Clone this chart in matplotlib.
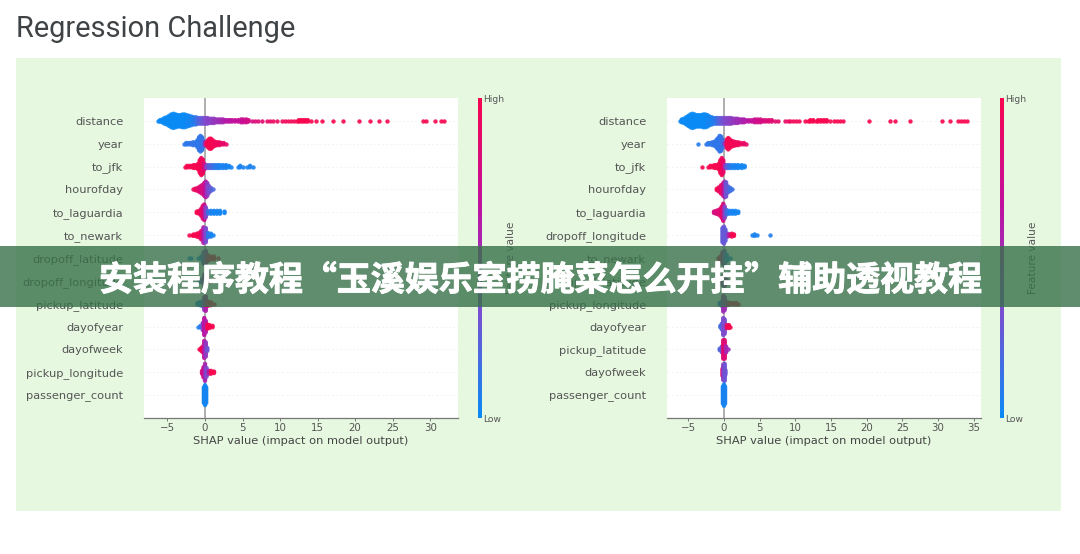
import matplotlib
matplotlib.use("Agg")
import matplotlib.pyplot as plt
import matplotlib.patheffects as pe
from matplotlib.colors import LinearSegmentedColormap
from matplotlib.patches import Rectangle
from matplotlib.cm import ScalarMappable

W, H = 1080, 554
TITLE = "Regression Challenge"
BANNER = "安装程序教程“玉溪娱乐室捞腌菜怎么开挂”辅助透视教程"
XLABEL = "SHAP value (impact on model output)"
CBAR_LABEL = "Feature value"
LEFT_TICKS = [-5, 0, 5, 10, 15, 20, 25, 30]
RIGHT_TICKS = [-5, 0, 5, 10, 15, 20, 25, 30, 35]

# Every row: (SHAP value, points in the column, feature value 0..1)
L_distance = [(-6.3,1,0),(-6,2,0),(-5.7,3,0),(-5.4,5,0),(-5.1,6,0),(-4.8,8,0),(-4.5,10,0),(-4.2,11,0),(-3.9,10,0),(-3.6,9,0),
    (-3.3,9,0),(-3,10,0),(-2.7,10,0),(-2.4,9,.02),(-2.1,8,.03),(-1.8,7,.05),(-1.5,6,.08),(-1.2,6,.12),(-.9,5,.2),(-.6,5,.25),
    (-.3,5,.3),(0,5,.35),(.3,5,.38),(.6,4,.4),(.9,4,.42),(1.2,4,.45),(1.5,3,.47),(1.8,3,.5),(2.1,3,.52),(2.4,3,.55),(2.7,2,.6),
    (3,2,.62),(3.3,2,.65),(3.6,2,.65),(4,2,.68),(4.4,2,.7),(4.8,3,.7),(5.1,3,.72),(5.5,3,.75),(5.8,2,.78),(6.2,1,.8),(6.6,1,.82),
    (7,1,.85),(7.6,1,.88),(8.2,1,.9),(8.6,1,.9),(9.1,1,.92),(9.6,1,.93),(10.2,1,.95),(10.6,1,.95),(11,1,.95),(11.4,1,.97),(11.8,1,.97),
    (12.2,1,1),(12.5,2,1),(12.8,2,1),(13.1,2,1),(13.4,2,1),(13.7,2,1),(14.1,1,1),(14.8,1,1),(15.6,1,1),(17,1,1),(18.4,1,1),(20.5,1,1),
    (22,1,1),(23.2,1,1),(24.3,1,1),(29,1,1),(29.5,1,1),(30.6,1,1),(31.4,1,1),(31.8,1,1)]
L_year = [(-2.8,1,.1),(-2.5,2,.1),(-2.2,2,.1),(-1.9,2,.12),(-1.6,3,.12),(-1.3,3,.12),(-1,6,.1),(-.8,10,.12),(-.6,12,.12),(-.4,10,.12),
    (-.2,5,.15),(0,3,.5),(.2,3,.95),(.4,6,.98),(.6,8,1),(.8,8,1),(1,6,1),(1.3,4,.95),(1.6,3,.95),(1.9,3,.95),(2.2,2,.9),(2.5,2,.9),(2.8,1,.9)]
L_to_jfk = [(-2.7,1,1),(-2.4,2,1),(-2.1,2,1),(-1.8,2,1),(-1.5,3,1),(-1.2,3,1),(-.9,5,1),(-.7,10,1),(-.5,13,.97),(-.3,11,.95),(-.1,5,.8),
    (.2,3,.4),(.5,3,.25),(.8,3,.2),(1.1,3,.15),(1.4,3,.1),(1.7,3,.08),(2,3,.05),(2.4,3,.05),(2.8,3,.05),(3.2,2,.03),(3.5,1,.03),
    (4.4,1,.05),(4.7,2,.05),(5,1,.05),(5.6,1,.05),(6,2,.05),(6.4,1,.05)]
L_hourofday = [(-1.6,1,.95),(-1.3,2,.95),(-1,3,.9),(-.7,5,.85),(-.4,7,.8),(-.1,10,.75),(.1,12,.65),(.3,10,.45),(.5,6,.35),(.8,3,.25),(1,1,.2)]
L_to_laguardia = [(-1.1,2,1),(-.8,3,1),(-.5,6,.9),(-.3,10,.9),(-.1,12,.75),(.1,8,.4),(.4,3,.15),(.8,3,.05),(1.2,3,.03),(1.6,3,.03),(2,3,.03),(2.6,2,.03)]
L_to_newark = [(-2.1,1,1),(-1.8,1,1),(-1.5,2,1),(-1.1,3,1),(-.8,4,1),(-.5,7,.9),(-.2,12,.6),(.1,11,.35),(.4,4,.1),(.8,3,.05),(1.1,1,.03)]
L_dropoff_latitude = [(-2.2,1,.05),(-1.9,1,.05),(-.9,1,.05),(-.5,3,.1),(-.2,9,.35),(.1,11,.5),(.4,5,.85),(.8,3,.95),(1.2,3,1),(1.7,1,1)]
L_dropoff_longitude = [(-.8,1,.2),(-.4,3,.35),(-.1,10,.5),(.1,10,.5),(.4,3,.75),(.8,1,.9)]
L_pickup_latitude = [(-1,2,.05),(-.7,3,.1),(-.4,4,.2),(-.1,10,.4),(.1,11,.6),(.4,4,.9),(.8,3,1),(1.2,1,1)]
L_dayofyear = [(-.9,1,.05),(-.6,2,.1),(-.3,6,.4),(-.1,13,.65),(.1,9,.6),(.3,4,.98),(.6,3,1),(1,2,1)]
L_dayofweek = [(-.8,1,1),(-.5,3,1),(-.3,5,.95),(-.1,13,.65),(.1,11,.45),(.3,3,.3)]
L_pickup_longitude = [(-.4,3,.8),(-.2,8,.75),(0,13,.55),(.2,7,.35),(.5,3,.6),(.8,3,1),(1.2,2,1)]
L_passenger_count = [(-.15,12,.03),(0,15,.02),(.15,12,.03)]

R_distance = [(-6.2,1,0),(-5.9,3,0),(-5.6,4,0),(-5.3,6,0),(-5,8,0),(-4.7,10,0),(-4.4,11,0),(-4.1,10,0),(-3.8,9,0),(-3.5,9,0),(-3.2,9,0),
    (-2.9,10,0),(-2.6,10,0),(-2.3,9,.02),(-2,7,.03),(-1.7,6,.05),(-1.4,5,.08),(-1.1,5,.12),(-.8,5,.2),(-.5,5,.25),(-.2,5,.3),(.1,5,.35),
    (.4,5,.38),(.7,5,.4),(1,5,.42),(1.3,4,.45),(1.6,4,.47),(1.9,4,.5),(2.2,3,.52),(2.5,3,.55),(2.8,3,.58),(3.1,2,.6),(3.5,2,.65),(3.9,2,.7),
    (4.3,3,.72),(4.7,3,.75),(5.1,3,.78),(5.5,2,.8),(5.9,2,.82),(6.3,2,.85),(6.7,2,.85),(7.1,1,.88),(7.5,1,.88),(8.5,1,.9),(8.9,1,.92),(9.3,1,.95),
    (9.7,1,.95),(10.1,1,.97),(10.5,1,.97),(11.3,1,1),(11.7,1,1),(12.1,2,1),(12.5,2,1),(12.9,1,1),(13.2,2,1),(13.6,2,1),(14,2,1),(14.4,2,1),
    (14.8,1,1),(15.4,1,1),(15.8,1,1),(16.2,1,1),(16.7,1,1),(20.3,1,1),(23.2,1,1),(24,1,1),(26,1,1),(30.6,1,1),(31.6,1,1),(32.8,1,1),(33.2,1,1),(33.6,1,1),(34,1,1)]
R_year = [(-3.6,1,.08),(-2.5,1,.1),(-2.2,2,.1),(-1.9,2,.1),(-1.6,3,.12),(-1.3,4,.12),(-1,7,.1),(-.8,9,.12),(-.6,12,.12),(-.4,11,.12),(-.2,7,.15),
    (.1,2,.5),(.4,7,.98),(.6,9,1),(.8,7,1),(1.1,5,.98),(1.4,4,.98),(1.7,3,.95),(2,3,.95),(2.4,2,.95),(2.8,2,.9),(3.1,1,.9)]
R_to_jfk = [(-3.1,1,1),(-2.2,1,1),(-1.9,2,1),(-1.6,2,1),(-1.3,3,1),(-1,3,1),(-.7,5,1),(-.5,10,1),(-.3,13,.97),(-.1,10,.9),(.2,3,.4),(.5,3,.2),
    (.8,3,.12),(1.2,3,.05),(1.6,3,.05),(2,3,.03),(2.5,3,.03),(2.9,2,.03)]
R_hourofday = [(-1,2,1),(-.7,4,.95),(-.4,7,.9),(-.1,10,.8),(.1,12,.55),(.3,11,.3),(.6,5,.25),(.9,3,.15),(1.1,1,.15)]
R_to_laguardia = [(-1.4,2,.8),(-1.1,3,.8),(-.8,4,.85),(-.5,6,.85),(-.3,9,.9),(-.1,13,.8),(.1,9,.4),(.4,4,.15),(.8,3,.05),(1.2,3,.03),(1.6,3,.03),(2,2,.03)]
R_dropoff_longitude = [(-.2,11,.25),(0,13,.3),(.2,9,.25),(.5,3,.4),(.8,2,.7),(1.1,3,1),(1.4,2,1),(3.9,1,.05),(4.3,2,.05),(4.6,1,.05),(6.4,1,.08)]
R_to_newark = [(-.8,1,1),(-.5,3,.9),(-.2,9,.7),(.1,11,.35),(.4,5,.1),(.8,1,.05)]
R_dropoff_latitude = [(-.5,2,.4),(-.2,7,.5),(.1,8,.5),(.4,2,.6)]
R_pickup_longitude = [(-.6,2,.1),(-.3,4,.2),(-.1,12,.5),(.1,10,.5),(.5,3,.75),(.9,2,1),(1.3,2,1),(1.7,2,1),(2,1,1)]
R_dayofyear = [(-.5,2,.15),(-.3,5,.2),(-.1,13,.35),(.1,11,.35),(.4,3,.9),(.7,3,1),(.9,1,1)]
R_pickup_latitude = [(-.6,2,.2),(-.3,5,.3),(-.1,14,.85),(.1,14,.85),(.3,5,.55),(.6,1,.5)]
R_dayofweek = [(-.2,6,.95),(-.1,12,.45),(.1,13,.3),(.2,4,.3)]
R_passenger_count = [(-.15,13,.05),(0,16,.03),(.15,13,.05)]

L_rows = [("distance",L_distance),("year",L_year),("to_jfk",L_to_jfk),("hourofday",L_hourofday),("to_laguardia",L_to_laguardia),
    ("to_newark",L_to_newark),("dropoff_latitude",L_dropoff_latitude),("dropoff_longitude",L_dropoff_longitude),
    ("pickup_latitude",L_pickup_latitude),("dayofyear",L_dayofyear),("dayofweek",L_dayofweek),
    ("pickup_longitude",L_pickup_longitude),("passenger_count",L_passenger_count)]
R_rows = [("distance",R_distance),("year",R_year),("to_jfk",R_to_jfk),("hourofday",R_hourofday),("to_laguardia",R_to_laguardia),
    ("dropoff_longitude",R_dropoff_longitude),("to_newark",R_to_newark),("dropoff_latitude",R_dropoff_latitude),
    ("pickup_longitude",R_pickup_longitude),("dayofyear",R_dayofyear),("pickup_latitude",R_pickup_latitude),
    ("dayofweek",R_dayofweek),("passenger_count",R_passenger_count)]

plt.rcParams["font.family"] = ["DejaVu Sans"]
cmap = LinearSegmentedColormap.from_list("shap", ["#0a8af5", "#7a4fd0", "#c0109f", "#f8054f"])
fig = plt.figure(figsize=(W / 100, H / 100), dpi=100, facecolor="white")

def box(x0, y0, x1, y1):
    return [x0 / W, 1 - y1 / H, (x1 - x0) / W, (y1 - y0) / H]

fig.add_artist(Rectangle((16 / W, 1 - 511 / H), 1045 / W, 453 / H, transform=fig.transFigure,
                         fc="#e6f8e0", ec="none", zorder=-5))
fig.text(16 / W, 1 - 29 / H, TITLE, fontsize=20.9, family="Roboto", color="#3f4346", va="center", ha="left")

GREY = "#555555"
STEP = 0.062  # row units between stacked points

def panel(rows, x0, x1, xlim, ticks, cbar_x):
    ax = fig.add_axes(box(x0, 98, x1, 418), facecolor="white", zorder=1)
    ax.set_xlim(*xlim)
    ax.set_ylim(13, -1)
    ax.axvline(0, color="#999999", lw=1.1, zorder=1)
    for i, (name, cols) in enumerate(rows):
        ax.axhline(i, color="#eeeeee", lw=0.5, ls=(0, (3, 3)), zorder=0)
        for x, n, c in cols:
            ys = [i + (k - (n - 1) / 2) * STEP for k in range(n)]
            ax.scatter([x] * n, ys, s=10, c=[c] * n, cmap=cmap, vmin=0, vmax=1,
                       linewidths=0, alpha=0.9, zorder=3)
    ax.set_yticks(range(len(rows)))
    ax.set_yticklabels([r[0] for r in rows], fontsize=8.2, color=GREY)
    ax.tick_params(axis="y", length=0, pad=15)
    ax.set_xticks(ticks)
    ax.set_xticklabels([str(t).replace("-", "\u2212") for t in ticks], fontsize=7.4, color=GREY)
    ax.tick_params(axis="x", length=2.5, width=0.7, color="#777777", pad=1)
    ax.set_xlabel(XLABEL, fontsize=8.2, color="#444444", labelpad=2.5)
    for s in ("top", "left", "right"):
        ax.spines[s].set_visible(False)
    ax.spines["bottom"].set_color("#777777")
    ax.spines["bottom"].set_linewidth(0.9)

    cax = fig.add_axes(box(cbar_x, 98, cbar_x + 4, 418), zorder=1)
    cb = fig.colorbar(ScalarMappable(cmap=cmap), cax=cax, ticks=[0, 1])
    cb.outline.set_visible(False)
    cb.set_ticklabels(["Low", "High"], fontsize=6.6, color=GREY)
    cb.ax.tick_params(length=0, pad=1)
    fig.text((cbar_x + 33) / W, 1 - 258 / H, CBAR_LABEL, rotation=90, fontsize=7.6,
             color=GREY, va="center", ha="center")

panel(L_rows, 144, 458, (-8.13, 33.7), LEFT_TICKS, 478)
panel(R_rows, 667, 981, (-7.98, 36.0), RIGHT_TICKS, 1000)

fig.add_artist(Rectangle((0, 1 - 307 / H), 1, 61 / H, transform=fig.transFigure,
                         fc="#38714a", ec="none", alpha=0.8, zorder=10))
fig.text(541 / W, 1 - 280 / H, BANNER, fontsize=24.45, fontweight="bold",
         family=["Noto Sans CJK SC", "DejaVu Sans"], color="white", va="center", ha="center", zorder=11,
         path_effects=[pe.withStroke(linewidth=0.7, foreground="white")])

fig.savefig("out.png", dpi=100, facecolor="white")
